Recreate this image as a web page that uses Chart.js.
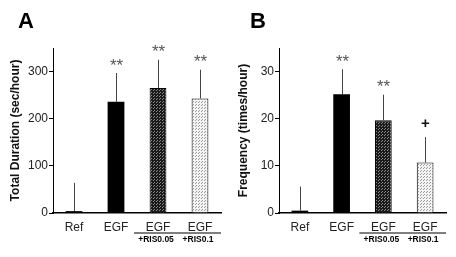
<!DOCTYPE html>
<html>
<head>
<meta charset="utf-8">
<script src="https://cdn.jsdelivr.net/npm/chart.js@4"></script>
<style>
  html, body { margin: 0; padding: 0; background: #fff; width: 456px; height: 257px; overflow: hidden; }
  canvas { position: absolute; top: 0; }
  #cA { left: 0; }
  #cB { left: 228px; }
</style>
</head>
<body>
<canvas id="cA" width="228" height="257"></canvas>
<canvas id="cB" width="228" height="257"></canvas>
<script>
const categories = ['Ref', 'EGF', 'EGF', 'EGF'];
const subLabels = ['', '', '+RIS0.05', '+RIS0.1'];

const durationMean = [4, 236, 265, 243];
const durationErr = [60, 61, 60, 61];
const durationSig = ['', '**', '**', '**'];
const durationTicks = [0, 100, 200, 300];
const durationMax = 350;

const freqMean = [0.5, 25.2, 19.7, 10.7];
const freqErr = [5.1, 5.3, 5.4, 5.4];
const freqSig = ['', '**', '**', '+'];
const freqTicks = [0, 10, 20, 30];
const freqMax = 35;

const FONT = '"Liberation Sans", Arial, sans-serif';
const NARROW = '"Liberation Sans Narrow", "Arial Narrow", "Liberation Sans", Arial, sans-serif';

function makePattern(bg, dot) {
  const c = document.createElement('canvas');
  c.width = 3; c.height = 3;
  const g = c.getContext('2d');
  g.fillStyle = bg; g.fillRect(0, 0, 3, 3);
  g.fillStyle = dot;
  g.fillRect(0, 0, 1, 1);
  g.fillRect(1, 2, 1, 1);
  return g.createPattern(c, 'repeat');
}

function makeChart(id, letter, title, means, errs, sigs, ticks, yMax, geo) {
  const ctx = document.getElementById(id).getContext('2d');
  const darkPat = makePattern('#1a1a1a', '#8a8a8a');
  const lightPat = makePattern('#f4f4f4', '#9a9a9a');
  const annot = {
    id: 'annot' + id,
    afterDatasetsDraw(chart) {
      const c = chart.ctx;
      const xs = chart.scales.x, ys = chart.scales.y;
      c.save();
      c.strokeStyle = '#444';
      c.lineWidth = 1;
      means.forEach((m, i) => {
        const x = Math.round(xs.getPixelForValue(i)) + 0.5;
        const y0 = ys.getPixelForValue(m);
        const y1 = ys.getPixelForValue(m + errs[i]);
        c.beginPath(); c.moveTo(x, y0); c.lineTo(x, y1); c.stroke();
        const s = sigs[i];
        if (s) {
          c.textAlign = 'center';
          c.textBaseline = 'middle';
          if (s === '+') {
            c.fillStyle = '#111';
            c.font = 'bold 15px ' + FONT;
            c.fillText(s, x, y1 - 13);
          } else {
            c.fillStyle = '#555';
            c.font = '17px ' + FONT;
            c.fillText(s, x, y1 - 7);
          }
        }
      });
      const xl = xs.getPixelForValue(2) - 24;
      const xr = xs.getPixelForValue(3) + 21;
      c.strokeStyle = '#000';
      c.lineWidth = 1.2;
      c.beginPath(); c.moveTo(xl, 233); c.lineTo(xr, 233); c.stroke();
      c.fillStyle = '#000';
      c.font = 'bold 8.5px ' + FONT;
      c.textAlign = 'center';
      c.textBaseline = 'middle';
      subLabels.forEach((t, i) => {
        if (t) c.fillText(t, xs.getPixelForValue(i) - 2, 239.5);
      });
      c.font = 'bold 22px ' + FONT;
      c.textAlign = 'left';
      c.textBaseline = 'alphabetic';
      c.fillText(letter, geo.letterX, 28);
      c.restore();
    }
  };
  return new Chart(ctx, {
    type: 'bar',
    data: {
      labels: categories,
      datasets: [{
        data: means,
        backgroundColor: ['#000', '#000', darkPat, lightPat],
        borderColor: '#000',
        borderWidth: [0, 0, 1, 1],
        barPercentage: 0.8,
        categoryPercentage: 0.5
      }]
    },
    options: {
      responsive: false,
      animation: false,
      devicePixelRatio: 1,
      layout: { padding: { left: 0, top: 48, right: geo.right, bottom: 0 } },
      plugins: { legend: { display: false }, tooltip: { enabled: false } },
      scales: {
        x: {
          grid: { display: false, drawTicks: false },
          border: { display: true, color: '#000', width: 1.5 },
          ticks: { color: '#222', font: { family: NARROW, size: 12 }, padding: 7, maxRotation: 0 },
          afterFit(s) { s.height = 44; }
        },
        y: {
          min: 0, max: yMax,
          grid: { display: true, drawOnChartArea: false, drawTicks: true, tickLength: 4, color: '#000' },
          border: { display: true, color: '#000', width: 1 },
          ticks: { color: '#222', font: { family: FONT, size: 12 }, padding: 1 },
          afterBuildTicks(s) { s.ticks = ticks.map(v => ({ value: v })); },
          afterFit(s) { s.width = geo.axisX; },
          title: { display: true, text: title, color: '#111', font: { family: FONT, size: 12, weight: 'bold' }, padding: { top: 8, bottom: 0 } }
        }
      }
    },
    plugins: [annot]
  });
}

makeChart('cA', 'A', 'Total Duration (sec/hour)', durationMean, durationErr, durationSig, durationTicks, durationMax,
  { axisX: 53, right: 7, letterX: 18 });
makeChart('cB', 'B', 'Frequency (times/hour)', freqMean, freqErr, freqSig, freqTicks, freqMax,
  { axisX: 51, right: 10, letterX: 22 });
</script>
</body>
</html>
